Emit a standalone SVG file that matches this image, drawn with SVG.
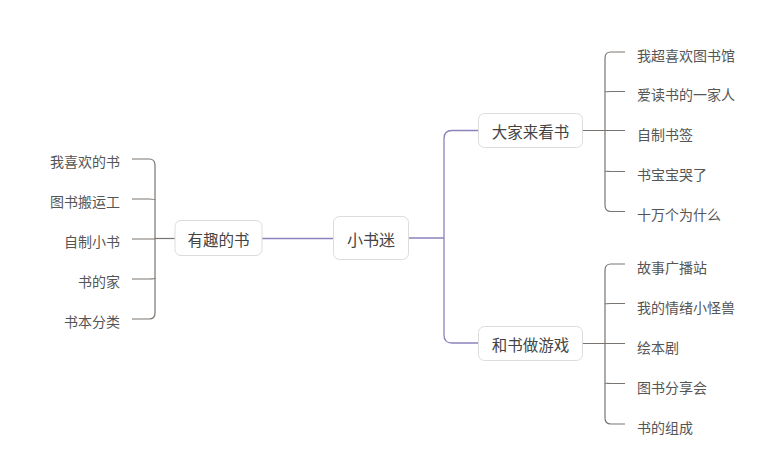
<svg xmlns="http://www.w3.org/2000/svg" width="783" height="474" viewBox="0 0 783 474">
<style>
.node rect{fill:#fff;stroke:#dcdcdc;stroke-width:1}
.t{font-family:"Noto Sans CJK SC","Noto Sans",sans-serif;fill:#444;dominant-baseline:central}
.main{font-size:15.5px;text-anchor:middle}
.leaf{font-size:14px;fill:#555}
.p{fill:none;stroke:#8a84bd;stroke-width:1.3}
.g{fill:none;stroke:#7a7470;stroke-width:1.2}
</style>
<rect width="783" height="474" fill="#fff"/>
<g id="connectors">
<path class="p" d="M262 238.5H333"/>
<path class="p" d="M408 238H444"/>
<path class="p" d="M478 130.5H452Q444 130.5 444 138.5V335Q444 343 452 343H478"/>
<path class="g" d="M175 238.5H155"/>
<path class="g" d="M132 159H149Q155 159 155 165V313Q155 319 149 319H132"/>
<path class="g" d="M155 200Q155 199 149 199H132M155 278Q155 279 149 279H132M132 239H155"/>
<path class="g" d="M582 130.5H625"/>
<path class="g" d="M625 52H611Q605 52 605 58V205Q605 211.5 611 211.5H625"/>
<path class="g" d="M605 92Q605 91.5 611 91.5H625M605 171Q605 171.5 611 171.5H625"/>
<path class="g" d="M582 343.5H625"/>
<path class="g" d="M625 264H611Q605 264 605 270V418Q605 424 611 424H625"/>
<path class="g" d="M605 304Q605 303.5 611 303.5H625M605 383Q605 383.5 611 383.5H625"/>
</g>
<g id="n-root" class="node"><rect x="333.5" y="216.5" width="75" height="43" rx="6"/><text class="t main" x="371" y="238.5" style="font-size:16px">小书迷</text></g>
<g id="n-fun" class="node"><rect x="175" y="220.5" width="87" height="35" rx="6"/><text class="t main" x="218.5" y="238.5">有趣的书</text></g>
<g id="n-look" class="node"><rect x="478.5" y="113.5" width="104" height="34" rx="6"/><text class="t main" x="530.5" y="131">大家来看书</text></g>
<g id="n-play" class="node"><rect x="478.5" y="326.5" width="104" height="34" rx="6"/><text class="t main" x="530.5" y="344">和书做游戏</text></g>
<g id="l1"><text class="t leaf" x="120" y="161" text-anchor="end">我喜欢的书</text></g>
<g id="l2"><text class="t leaf" x="120" y="201" text-anchor="end">图书搬运工</text></g>
<g id="l3"><text class="t leaf" x="120" y="241" text-anchor="end">自制小书</text></g>
<g id="l4"><text class="t leaf" x="120" y="281" text-anchor="end">书的家</text></g>
<g id="l5"><text class="t leaf" x="120" y="321" text-anchor="end">书本分类</text></g>
<g id="r1"><text class="t leaf" x="637" y="54.5">我超喜欢图书馆</text></g>
<g id="r2"><text class="t leaf" x="637" y="94">爱读书的一家人</text></g>
<g id="r3"><text class="t leaf" x="637" y="133.5">自制书签</text></g>
<g id="r4"><text class="t leaf" x="637" y="173.5">书宝宝哭了</text></g>
<g id="r5"><text class="t leaf" x="637" y="214">十万个为什么</text></g>
<g id="r6"><text class="t leaf" x="637" y="267">故事广播站</text></g>
<g id="r7"><text class="t leaf" x="637" y="307">我的情绪小怪兽</text></g>
<g id="r8"><text class="t leaf" x="637" y="347">绘本剧</text></g>
<g id="r9"><text class="t leaf" x="637" y="387">图书分享会</text></g>
<g id="r10"><text class="t leaf" x="637" y="427">书的组成</text></g>
</svg>
